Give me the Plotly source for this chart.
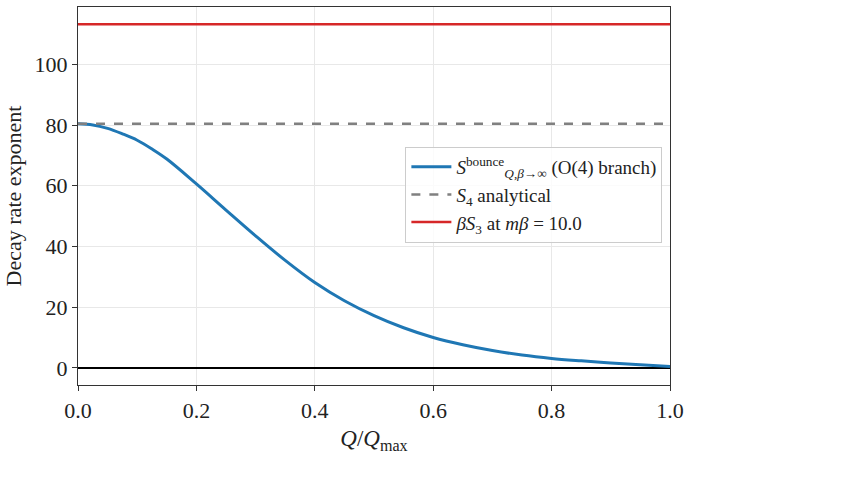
import plotly.graph_objects as go

# Data
q_ratio = [0.0, 0.025, 0.05, 0.075, 0.1, 0.125, 0.15, 0.2, 0.25, 0.3, 0.35, 0.4,
           0.45, 0.5, 0.55, 0.6, 0.65, 0.7, 0.75, 0.8, 0.85, 0.9, 0.95, 1.0]
s_bounce = [80.4, 80.05, 78.9, 77.1, 75.0, 72.1, 68.8, 60.6, 52.0, 43.5, 35.4, 28.1,
            22.1, 17.2, 13.2, 10.0, 7.6, 5.7, 4.2, 3.1, 2.3, 1.6, 1.0, 0.45]
s4_value = 80.4
beta_s3_value = 113.2
x_ticks = [0.0, 0.2, 0.4, 0.6, 0.8, 1.0]
y_ticks = [0, 20, 40, 60, 80, 100]

FONT = "Liberation Serif, DejaVu Serif, serif"

fig = go.Figure()
fig.add_trace(go.Scatter(
    x=q_ratio, y=s_bounce, mode="lines",
    line=dict(color="#1f77b4", width=3, shape="spline", smoothing=1.0),
    name="<i>S</i><sup>bounce</sup><sub><i>Q</i>,<i>β</i>→∞</sub> (O(4) branch)"))
fig.add_trace(go.Scatter(
    x=[0, 1], y=[s4_value, s4_value], mode="lines",
    line=dict(color="#808080", width=2.5, dash="dash"),
    name="<i>S</i><sub>4</sub> analytical"))
fig.add_trace(go.Scatter(
    x=[0, 1], y=[beta_s3_value, beta_s3_value], mode="lines",
    line=dict(color="#d62728", width=2.5),
    name="<i>βS</i><sub>3</sub> at <i>mβ</i> = 10.0"))

fig.update_layout(
    width=844, height=489,
    margin=dict(l=78, r=174, t=7, b=104),
    paper_bgcolor="white", plot_bgcolor="white",
    font=dict(family=FONT, size=22, color="#222"),
    legend=dict(x=0.553, y=0.63, xanchor="left", yanchor="top",
                bgcolor="rgba(255,255,255,0.8)", bordercolor="#cccccc",
                borderwidth=1, font=dict(size=19), itemwidth=40),
    showlegend=True,
)
fig.update_xaxes(
    range=[0, 1], tickvals=x_ticks, ticktext=[f"{v:.1f}" for v in x_ticks],
    tickfont=dict(size=22),
    showgrid=True, gridcolor="#e8e8e8", gridwidth=1,
    showline=True, linecolor="#333", linewidth=1.2, mirror=True,
    ticks="outside", ticklen=5, tickcolor="#333", zeroline=False,
    title=dict(text="<i>Q</i>/<i>Q</i><sub>max</sub>", font=dict(size=23), standoff=8),
)
fig.update_yaxes(
    range=[-5.66, 118.9], tickvals=y_ticks, tickfont=dict(size=22),
    showgrid=True, gridcolor="#e8e8e8", gridwidth=1,
    showline=True, linecolor="#333", linewidth=1.2, mirror=True,
    ticks="outside", ticklen=5, tickcolor="#333",
    zeroline=True, zerolinecolor="black", zerolinewidth=1.8,
    title=dict(text="Decay rate exponent", font=dict(size=22), standoff=6),
)

fig.write_html("out.html")
